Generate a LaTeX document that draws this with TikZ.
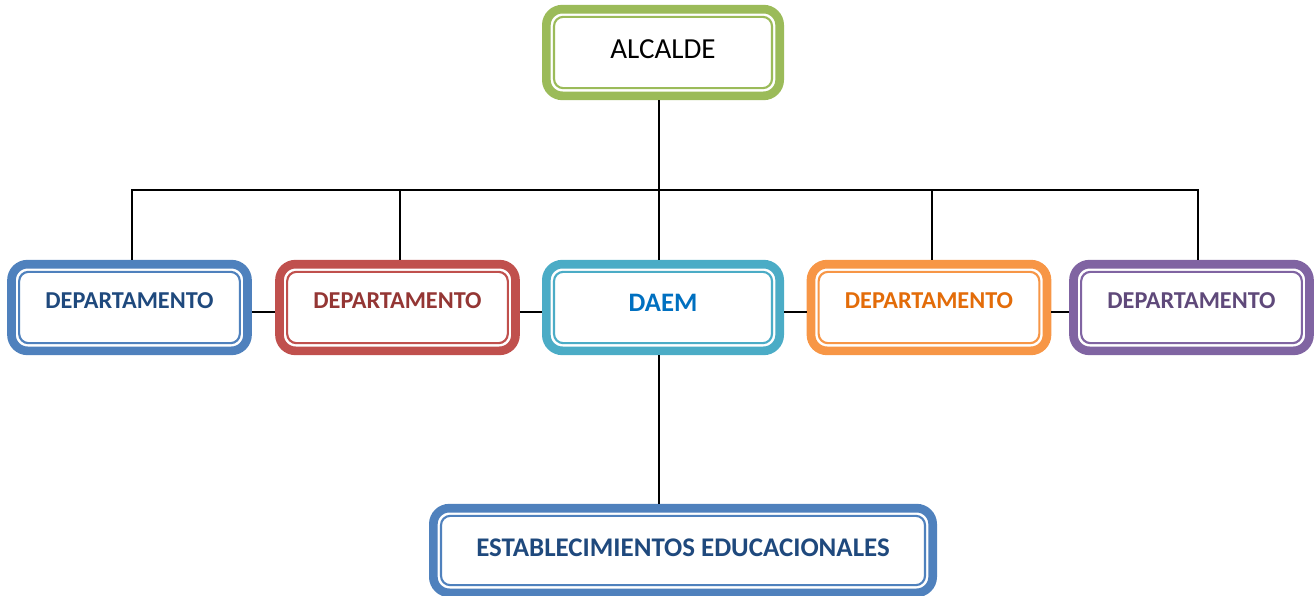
\documentclass[tikz,border=0pt]{standalone}
\usepackage{fontspec}
\setmainfont{Carlito}
\definecolor{cgreen}{HTML}{9BBB59}
\definecolor{cblue}{HTML}{4F81BD}
\definecolor{tblue}{HTML}{1F497D}
\definecolor{cred}{HTML}{C0504D}
\definecolor{tred}{HTML}{943634}
\definecolor{cteal}{HTML}{4BACC6}
\definecolor{tteal}{HTML}{0070C0}
\definecolor{corange}{HTML}{F79646}
\definecolor{torange}{HTML}{E36C09}
\definecolor{cpurple}{HTML}{8064A2}
\definecolor{tpurple}{HTML}{5F497A}
\begin{document}
\begin{tikzpicture}[x=0.75pt,y=-0.75pt,
  box/.style={draw=#1, line width=6.5pt, rounded corners=12pt, fill=white, inner sep=0pt,
    font=\bfseries\fontsize{18.2}{21}\selectfont},
  dept/.style={box=#1, minimum width=177pt, minimum height=65pt, text height=11.5pt, text depth=10.5pt},
  conn/.style={draw=black, line width=1.5pt},
  innerline/.style={draw=#1, line width=1.6pt, rounded corners=7pt}]
\useasboundingbox (0,0) rectangle (1315,596);
% boxes
\node[box=cgreen, minimum width=175pt, minimum height=65pt,
  font=\fontsize{21.8}{25}\selectfont, text height=13.5pt, text depth=3.8pt] (alc) at (663,52.5) {ALCALDE};
\node[dept=cblue, text=tblue] (d1) at (129.5,307.5) {DEPARTAMENTO};
\node[dept=cred, text=tred] (d2) at (397.5,307.5) {DEPARTAMENTO};
\node[box=cteal, text=tteal, minimum width=175pt, minimum height=65pt,
  font=\bfseries\fontsize{20}{23}\selectfont, text height=12.8pt, text depth=6.8pt] (daem) at (663,307.5) {DAEM};
\node[dept=corange, text=torange] (d3) at (929,307.5) {DEPARTAMENTO};
\node[dept=cpurple, text=tpurple] (d4) at (1191.5,307.5) {DEPARTAMENTO};
\node[box=cblue, text=tblue, minimum width=374.5pt, minimum height=63.5pt,
  font=\bfseries\fontsize{20.2}{23}\selectfont, text height=12.8pt, text depth=4.5pt] (est) at (683,550.5) {ESTABLECIMIENTOS EDUCACIONALES};
% inner lines
\foreach \n/\c in {alc/cgreen,d1/cblue,d2/cred,daem/cteal,d3/corange,d4/cpurple,est/cblue}
  \draw[innerline=\c] ([shift={(12,12)}]\n.north west) rectangle ([shift={(-12,-12)}]\n.south east);
% coordinates
\coordinate (b1) at (132,190);
\coordinate (b2) at (400,190);
\coordinate (bm) at (659,190);
\coordinate (b4) at (932,190);
\coordinate (b5) at (1198,190);
\coordinate (hy) at (0,312);
% connectors
\draw[conn] (b1 |- d1.north) -- (b1) -- (b5) -- (b5 |- d4.north);
\draw[conn] (b2) -- (b2 |- d2.north);
\draw[conn] (b4) -- (b4 |- d3.north);
\draw[conn] (alc.south -| bm) -- (daem.north -| bm);
\draw[conn] (daem.south -| bm) -- (est.north -| bm);
\draw[conn] (d1.east |- hy) -- (d2.west |- hy);
\draw[conn] (d2.east |- hy) -- (daem.west |- hy);
\draw[conn] (daem.east |- hy) -- (d3.west |- hy);
\draw[conn] (d3.east |- hy) -- (d4.west |- hy);
\end{tikzpicture}
\end{document}
